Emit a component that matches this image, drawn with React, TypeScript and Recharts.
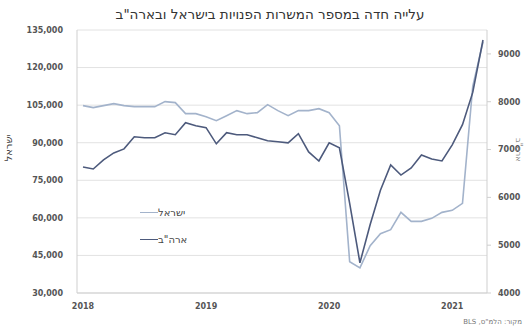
import React from "react";
import {
  LineChart,
  Line,
  XAxis,
  YAxis,
  CartesianGrid,
} from "recharts";

// monthly, Jan 2018 - Apr 2021
const yearLabels = ["2018", "2019", "2020", "2021"];

// open positions in Israel (left axis)
const israel = [
  104800, 104000, 104800, 105600, 104800, 104400, 104400, 104400, 106400, 106000,
  101600, 101600, 100400, 98800, 100800, 102800, 101600, 102000, 105200, 102800,
  100800, 102800, 102800, 103600, 102000, 96800, 42500, 40000, 48900, 53700,
  55300, 62200, 58600, 58600, 59800, 62200, 63000, 65800, 112500, 130200,
];

// job openings in the US, thousands (right axis)
const usa = [
  6635, 6593, 6783, 6930, 7014, 7267, 7246, 7246, 7352, 7310,
  7563, 7499, 7457, 7120, 7352, 7310, 7310, 7246, 7183, 7162,
  7141, 7331, 6951, 6761, 7141, 7036, 5876, 4632, 5433, 6150,
  6677, 6466, 6614, 6888, 6804, 6761, 7099, 7520, 8195, 9291,
];

const leftTicks = [30000, 45000, 60000, 75000, 90000, 105000, 120000, 135000];
const rightTicks = [4000, 5000, 6000, 7000, 8000, 9000];

const data = israel.map((v, i) => ({ i, israel: v, usa: usa[i] }));

const font = "'DejaVu Sans', sans-serif";
const tickStyle = { fontSize: 8, fontWeight: 700, fill: "#555", fontFamily: font };

const legendRows = [
  { name: "ישראל", color: "#a3b3cb" },
  { name: 'ארה"ב', color: "#4d5a7c" },
];

export default function App() {
  return (
    <div style={{ position: "absolute", left: 0, top: 0, width: 528, height: 333, background: "#fff" }}>
      <div
        style={{
          position: "absolute",
          top: 6,
          left: 0,
          width: 540,
          textAlign: "center",
          fontFamily: font,
          fontSize: 13.5,
          color: "#333",
          direction: "rtl",
        }}
      >
        עלייה חדה במספר המשרות הפנויות בישראל ובארה"ב
      </div>
      <LineChart
        width={528}
        height={333}
        data={data}
        margin={{ top: 30, right: 0, left: 0, bottom: 10 }}
      >
        <CartesianGrid yAxisId="left" vertical={false} stroke="#e2e2e2" />
        <XAxis
          dataKey="i"
          type="number"
          domain={[0, 39]}
          ticks={[0, 12, 24, 36]}
          tickFormatter={(v: number) => yearLabels[v / 12]}
          padding={{ left: 6, right: 4 }}
          height={30}
          stroke="#cfcfcf"
          tickSize={0}
          tickMargin={10}
          tick={tickStyle}
        />
        <YAxis
          yAxisId="left"
          width={77}
          domain={[30000, 135000]}
          ticks={leftTicks}
          tickFormatter={(v: number) => v.toLocaleString("en-US")}
          stroke="#cfcfcf"
          tickLine={false}
          tickSize={0}
          tickMargin={14}
          tick={tickStyle}
          label={{
            value: "ישראל",
            angle: -90,
            position: "insideLeft",
            offset: 8,
            style: { fontSize: 10, fill: "#444", fontFamily: font },
          }}
        />
        <YAxis
          yAxisId="right"
          orientation="right"
          width={41}
          domain={[4000, 9500]}
          ticks={rightTicks}
          stroke="#cfcfcf"
          tickSize={4}
          tickMargin={7}
          tick={tickStyle}
          label={{
            value: 'ארה"ב',
            angle: 90,
            position: "insideRight",
            offset: 9,
            style: { fontSize: 8, fill: "#888", fontFamily: font },
          }}
        />
        <Line
          yAxisId="left"
          dataKey="israel"
          stroke="#a3b3cb"
          strokeWidth={1.6}
          dot={false}
          isAnimationActive={false}
        />
        <Line
          yAxisId="right"
          dataKey="usa"
          stroke="#4d5a7c"
          strokeWidth={1.6}
          dot={false}
          isAnimationActive={false}
        />
      </LineChart>
      <div
        style={{
          position: "absolute",
          left: 140,
          top: 199,
          width: 80,
          fontFamily: font,
          fontSize: 10,
          color: "#444",
        }}
      >
        {legendRows.map((r) => (
          <div key={r.name} style={{ display: "flex", alignItems: "center", height: 27 }}>
            <div style={{ width: 18, height: 0, borderTop: `1.5px solid ${r.color}` }} />
            <span style={{ direction: "rtl" }}>{r.name}</span>
          </div>
        ))}
      </div>
      <div
        style={{
          position: "absolute",
          right: 6,
          top: 318,
          fontFamily: font,
          fontSize: 7,
          color: "#777",
          direction: "rtl",
        }}
      >
        מקור: הלמ"ס, BLS
      </div>
    </div>
  );
}
